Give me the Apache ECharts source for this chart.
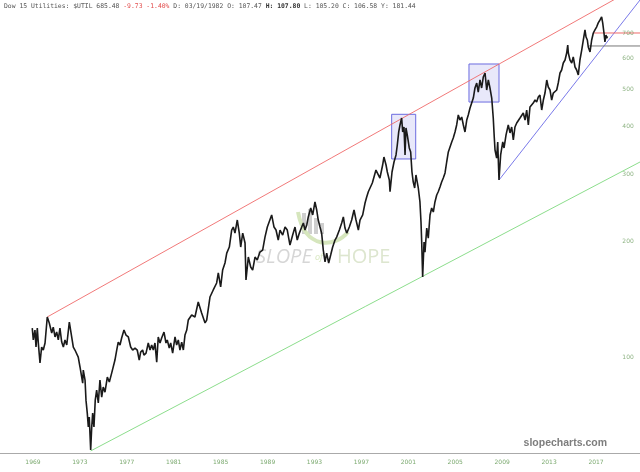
<!DOCTYPE html>
<html><head><meta charset="utf-8">
<script src="https://cdn.jsdelivr.net/npm/echarts@6/dist/echarts.min.js"></script>
<style>html,body{margin:0;padding:0;background:#fff}#c{width:640px;height:472px}</style>
</head><body><div id="c"></div><script>
// Dow 15 Utilities ($UTIL) (decimal years)
const priceYears = [
1969.48,1969.57,1969.71,1969.80,1969.91,1969.99,1970.14,1970.28,1970.42,1970.57,1970.76,1970.93,
1971.14,1971.27,1971.42,1971.56,1971.70,1971.84,1971.99,1972.13,1972.27,1972.42,1972.64,1972.84,
1972.98,1973.12,1973.27,1973.40,1973.55,1973.69,1973.78,1973.83,1973.98,1974.06,1974.17,1974.26,
1974.34,1974.46,1974.55,1974.63,1974.74,1974.85,1974.97,1975.11,1975.25,1975.40,1975.53,1975.68,
1975.88,1976.05,1976.25,1976.39,1976.53,1976.68,1976.81,1976.96,1977.10,1977.30,1977.47,1977.67,
1977.87,1978.04,1978.24,1978.43,1978.60,1978.72,1978.89,1979.00,1979.18,1979.37,1979.52,1979.66,
1979.80,1979.94,1980.09,1980.22,1980.37,1980.51,1980.71,1980.88,1980.99,1981.16,1981.28,1981.45,
1981.65,1981.79,1981.93,1982.07,1982.22,1982.36,1982.50,1982.65,1982.78,1983.07,1983.35,1983.63,
1983.92,1984.21,1984.35,1984.63,1984.91,1985.20,1985.34,1985.54,1985.71,1985.91,1986.06,1986.28,
1986.48,1986.62,1986.76,1986.96,1987.13,1987.25,1987.42,1987.62,1987.70,1987.90,1988.10,1988.27,
1988.47,1988.66,1988.89,1989.12,1989.32,1989.52,1989.69,1989.89,1990.09,1990.26,1990.45,1990.60,
1990.83,1991.03,1991.22,1991.45,1991.68,1991.88,1992.07,1992.25,1992.45,1992.59,1992.73,1992.88,
1993.01,1993.22,1993.39,1993.58,1993.73,1993.86,1994.01,1994.15,1994.29,1994.44,1994.58,1994.75,
1994.92,1995.09,1995.29,1995.43,1995.66,1995.86,1996.00,1996.14,1996.29,1996.51,1996.71,1996.91,
1997.08,1997.28,1997.42,1997.65,1997.85,1997.99,1998.13,1998.47,1998.78,1999.12,1999.35,1999.46,
1999.64,1999.75,1999.92,1999.98,2000.15,2000.32,2000.49,2000.60,2000.72,2000.83,2000.97,2001.06,
2001.17,2001.26,2001.34,2001.45,2001.62,2001.74,2001.85,2001.96,2002.08,2002.19,2002.30,2002.39,
2002.53,2002.62,2002.68,2002.76,2002.88,2002.96,2003.11,2003.24,2003.39,2003.53,2003.67,2003.81,
2003.96,2004.09,2004.24,2004.38,2004.52,2004.67,2004.81,2004.95,2005.09,2005.24,2005.37,2005.52,
2005.66,2005.80,2005.94,2006.09,2006.23,2006.37,2006.52,2006.65,2006.80,2006.94,2007.08,2007.22,
2007.37,2007.50,2007.65,2007.79,2007.93,2008.08,2008.22,2008.36,2008.50,2008.65,2008.78,2008.87,
2008.93,2009.07,2009.16,2009.27,2009.41,2009.59,2009.70,2009.87,2010.06,2010.21,2010.35,2010.49,
2010.63,2010.78,2010.91,2011.06,2011.20,2011.34,2011.49,2011.63,2011.77,2011.91,2012.06,2012.19,
2012.34,2012.48,2012.62,2012.76,2012.91,2013.05,2013.19,2013.34,2013.47,2013.62,2013.76,2013.90,
2014.04,2014.19,2014.32,2014.47,2014.61,2014.75,2014.90,2015.04,2015.13,2015.18,2015.32,2015.47,
2015.60,2015.75,2015.89,2016.03,2016.17,2016.32,2016.46,2016.60,2016.69,2016.80,2016.88,2017.03,
2017.17,2017.31,2017.45,2017.60,2017.73,2017.88,2018.02,2018.11,2018.22,2018.30,2018.39,2018.45,
2018.52
];
const priceValues = [
119.0,110.8,117.6,106.2,119.0,109.4,96.5,106.2,104.3,108.8,127.2,122.7,
115.5,119.7,112.8,116.2,110.8,119.0,109.4,106.2,110.8,107.5,123.4,112.8,
106.2,104.3,105.5,100.0,94.2,93.6,85.5,92.5,87.1,77.2,71.4,65.7,
69.7,57.2,65.7,71.4,65.7,77.2,82.0,75.9,87.1,78.6,83.5,81.0,
88.7,86.1,90.8,91.4,98.2,104.3,109.4,107.5,112.1,117.6,114.1,112.8,
106.2,104.3,105.5,104.3,98.2,103.0,104.3,101.2,102.4,108.8,104.3,107.5,
104.3,108.8,97.0,112.8,108.8,112.1,116.2,108.8,110.8,105.5,108.8,102.4,
112.8,107.5,110.8,104.3,109.4,104.3,114.1,117.6,124.9,128.7,127.2,139.2,
130.3,122.7,124.9,143.4,149.6,156.0,165.7,152.3,168.6,175.9,186.7,193.6,
214.4,218.3,210.5,227.7,210.5,193.6,210.5,198.3,158.8,182.3,171.7,168.6,
182.3,179.1,187.8,190.1,205.5,218.3,217.0,234.7,218.3,214.4,201.9,214.4,
208.0,218.3,214.4,195.9,208.0,218.3,201.9,210.5,218.3,223.6,214.4,221.0,
231.9,244.7,234.7,253.8,241.8,227.7,218.3,210.5,190.1,177.0,186.7,175.9,
184.5,193.6,201.9,205.5,214.4,223.6,231.9,217.0,210.5,218.3,227.7,241.8,
227.7,214.4,227.7,234.7,252.2,261.4,269.8,284.4,307.4,293.0,316.8,332.4,
316.8,303.8,289.5,269.8,303.8,322.6,336.5,357.3,386.4,402.9,420.1,386.4,
398.1,336.5,395.7,379.5,350.9,342.6,303.8,286.0,276.0,298.4,286.0,276.0,
253.8,225.0,199.5,161.7,199.5,187.8,217.0,204.3,234.7,244.7,238.9,253.8,
264.6,269.8,277.6,286.0,293.0,302.0,322.6,342.6,346.7,363.8,372.6,386.4,
402.9,427.8,415.1,422.6,402.9,386.4,415.1,427.8,446.1,448.8,473.7,503.1,
518.4,491.0,527.9,503.1,537.4,550.5,497.1,527.9,503.1,473.7,420.1,372.6,
346.7,330.5,363.8,289.5,336.5,363.8,350.9,379.5,402.9,384.1,398.1,368.2,
398.1,407.8,407.8,420.1,415.1,432.9,415.1,440.8,402.9,448.8,446.1,459.6,
468.1,462.4,476.6,482.4,440.8,468.1,488.1,527.9,506.1,497.1,468.1,488.1,
488.1,497.1,518.4,550.5,560.5,584.6,595.2,620.8,651.3,620.8,595.2,584.6,
606.0,570.7,560.5,543.9,595.2,632.0,671.2,713.5,683.4,671.2,643.5,624.5,
671.2,700.0,713.5,726.5,744.0,756.9,770.6,744.0,700.0,663.2,691.6,679.3,
685.5
];
const xTickYears = [1969,1973,1977,1981,1985,1989,1993,1997,2001,2005,2009,2013,2017];
const yTickValues = [100,200,300,400,500,600,700];
// drawn trendlines: [year, value] end points
const redChannel = [[1970.76,127.2],[2021.29,933]];
const greenChannel = [[1974.46,56.9],[2021.29,322.6]];
const blueTrend = [[2009.27,289.5],[2021.29,853.4]];
const redLevel = [[2017.28,700],[2021.29,700]];
const greyLevel = [[2016.94,647.5],[2021.29,647.5]];
const box2000 = [[2000.12,429.6],[2002.17,328.5]];
const box2008 = [[2006.71,581.1],[2009.27,462.4]];

const X_MIN = 1966.73, X_MAX = 2021.29, Y_MIN = 56.2, Y_MAX = 853.4;
const LABEL_SHIFT = 0.54;

const chart = echarts.init(document.getElementById('c'), null, {renderer:'canvas'});
const price = priceYears.map((y,i)=>[y, priceValues[i]]);
const boxStyle = {color:'rgba(205,205,245,0.45)', borderColor:'#6b6be0', borderWidth:1};
const lineSeries = (data,color,w)=>({type:'line', data, showSymbol:false, silent:true, animation:false,
  lineStyle:{color, width:w||0.9}, z:3});

chart.setOption({
  animation:false,
  backgroundColor:'#fff',
  grid:{left:0, right:0, top:0, bottom:19},
  xAxis:{type:'value', min:X_MIN, max:X_MAX,
    axisLine:{lineStyle:{color:'#aaaaaa', width:1}}, axisTick:{show:false}, splitLine:{show:false},
    axisLabel:{customValues: xTickYears.map(y=>y+LABEL_SHIFT), formatter:v=>String(Math.round(v-LABEL_SHIFT)),
      color:'#7caa70', fontSize:6, margin:6, fontFamily:'DejaVu Sans'}},
  yAxis:{type:'log', min:Y_MIN, max:Y_MAX, position:'right',
    axisLine:{show:false}, axisTick:{show:false}, splitLine:{show:false}, axisLabel:{show:false}},
  series:[
    lineSeries(redChannel,'#ef6a6a'),
    lineSeries(greenChannel,'#7fd97f'),
    lineSeries(blueTrend,'#6a6ae6'),
    lineSeries(redLevel,'#ef6a6a',1),
    lineSeries(greyLevel,'#777777',1),
    {type:'line', data:price, showSymbol:false, animation:false, z:5,
      lineStyle:{color:'#1a1a1a', width:1.6},
      markArea:{silent:true, itemStyle:boxStyle, data:[
        [{coord:box2000[0]},{coord:box2000[1]}],
        [{coord:box2008[0]},{coord:box2008[1]}]
      ]}},
    {type:'scatter', symbolSize:0, silent:true, z:6,
      data: yTickValues.map(v=>[2020.27, v]),
      label:{show:true, position:'inside', formatter:p=>String(p.value[1]), color:'#6f9f62', fontSize:6, fontFamily:'DejaVu Sans'}}
  ],
  graphic:[
    {type:'text', left:4, top:3, z:10, style:{
      text:'{g|Dow 15 Utilities: $UTIL 685.48 }{r|-9.73 -1.40%}{g| D: 03/19/1982 O: 107.47 }{b|H: 107.80}{g| L: 105.20 C: 106.58 Y: 181.44}',
      rich:{
        g:{fill:'#555', fontFamily:'DejaVu Sans Mono', fontSize:6.4},
        r:{fill:'#e24d4d', fontFamily:'DejaVu Sans Mono', fontSize:6.4},
        b:{fill:'#333', fontFamily:'DejaVu Sans Mono', fontSize:6.4, fontWeight:'bold'}
      }}},
    // watermark
    {type:'rect', z:0, shape:{x:302,y:213,width:4,height:21}, style:{fill:'#cfcfcf'}},
    {type:'rect', z:0, shape:{x:308,y:209,width:4,height:25}, style:{fill:'#cfcfcf'}},
    {type:'rect', z:0, shape:{x:314,y:218,width:4,height:16}, style:{fill:'#cfcfcf'}},
    {type:'rect', z:0, shape:{x:320,y:223,width:4,height:11}, style:{fill:'#cfcfcf'}},
    {type:'bezierCurve', z:0, shape:{x1:298,y1:212,x2:348,y2:232,cpx1:305,cpy1:250,cpx2:335,cpy2:248},
      style:{stroke:'#d6e6bd', lineWidth:4, fill:null}},
    {type:'text', z:0, left:256, top:247, style:{text:'SLOPE', fill:'#d6d6d6', font:'italic 20px "Open Sans"'}},
    {type:'text', z:0, left:315, top:253, style:{text:'of', fill:'#d6e6bd', font:'italic 9px "Open Sans"'}},
    {type:'text', z:0, left:337, top:247, style:{text:'HOPE', fill:'#dde6cf', font:'20px "Open Sans"'}},
    {type:'text', z:10, right:33, top:438, style:{text:'slopecharts.com', fill:'#7d7d7d', font:'bold 10.5px "Liberation Sans"'}}
  ]
});
</script></body></html>
